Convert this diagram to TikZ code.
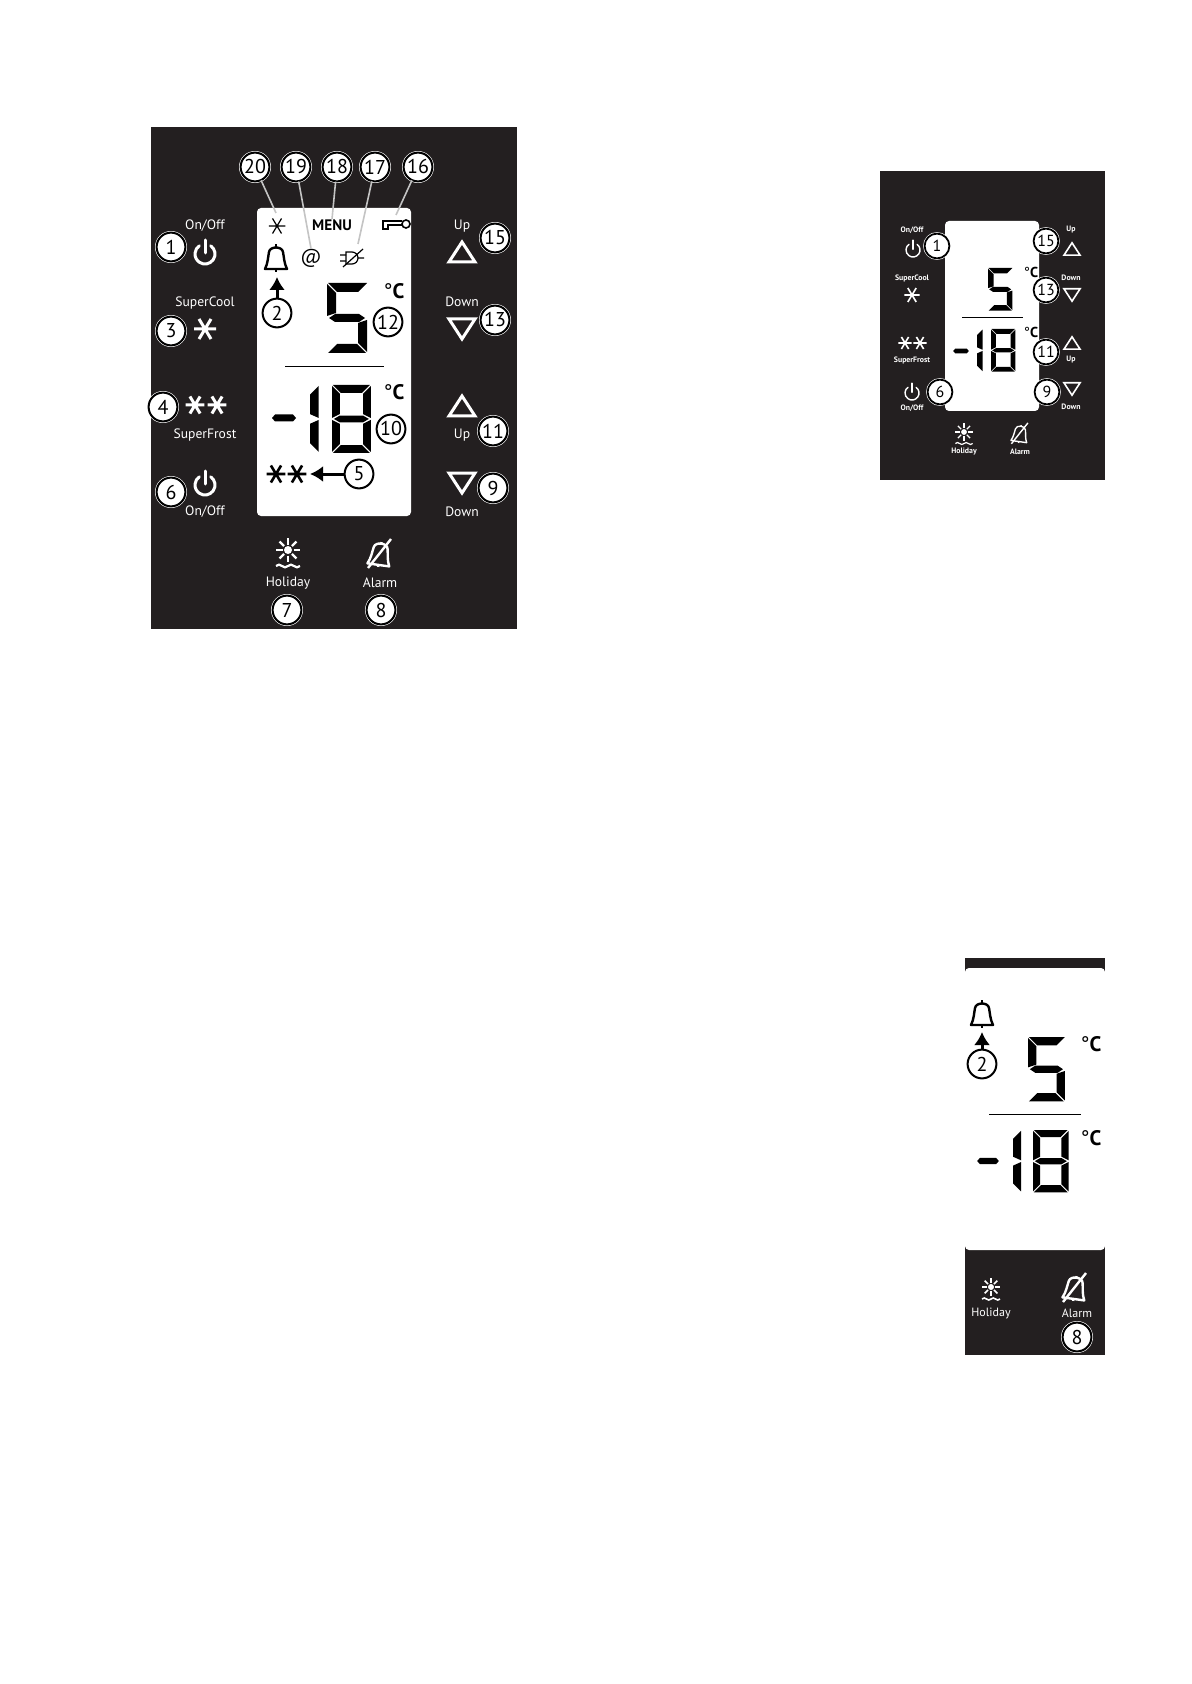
\documentclass[tikz,border=0pt]{standalone}
\usepackage{fontspec}
\setmainfont{PT Sans}
\usepackage{tikz}
\usetikzlibrary{arrows.meta}
\usepackage{xcolor}
\definecolor{PanelDark}{HTML}{231F20}
\definecolor{LeaderGrey}{HTML}{C4C4C4}
\tikzset{
  numcirc/.style={circle,draw=white,double=black,double distance=1pt,line width=.3pt,fill=white,text=black,inner sep=0pt,minimum size=14.4pt,font=\fontsize{10}{10}\selectfont},
  numsmall/.style={numcirc,double distance=.9pt,minimum size=12.4pt,font=\fontsize{8}{8}\selectfont},
  lbl/.style={text=white,inner sep=0pt,font=\fontsize{6.8}{7}\selectfont},
  lblsmall/.style={text=white,inner sep=0pt,font=\bfseries\fontsize{3.9}{4}\selectfont},
  lblmid/.style={text=white,inner sep=0pt,font=\fontsize{6}{7}\selectfont},
  degc/.style={text=black,inner sep=0pt,font=\fontsize{10.5}{11}\selectfont},
  degsmall/.style={degc,font=\fontsize{7.2}{8}\selectfont},
  pics/powericon/.style={code={
    \draw[line cap=round] (-55:10) arc[start angle=-55,end angle=235,radius=10];
    \draw[line cap=round] (0,-14)--(0,-1);}},
  pics/flake/.style={code={
    \draw (-11,0)--(11,0) (-6,-10)--(6,10) (6,-10)--(-6,10);}},
  pics/triup/.style={code={\draw (0,-10)--(13,10)--(-13,10)--cycle;}},
  pics/tridown/.style={code={\draw (0,10)--(13,-10)--(-13,-10)--cycle;}},
  pics/bellicon/.style={code={
    \draw[line join=round] (-11,12) .. controls (-8,6) and (-8,0) .. (-7,-5) .. controls (-6,-11) and (6,-11) .. (7,-5) .. controls (8,0) and (8,6) .. (11,12) -- cycle;
    \draw (0,-9)--(0,-13) (0,12)--(0,15);}},
  pics/belloff/.style={code={
    \begin{scope}[rotate=-8]
    \draw[line join=round] (-11,12) .. controls (-8,6) and (-8,0) .. (-7,-5) .. controls (-6,-11) and (6,-11) .. (7,-5) .. controls (8,0) and (8,6) .. (11,12) -- cycle;
    \draw (0,-9)--(0,-11) (0,12)--(0,14);
    \end{scope}
    \draw (-12,15)--(11,-14);}},
  pics/holidayicon/.style={code={
    \fill circle (4);
    \foreach \a in {0,45,...,315}{\draw (\a:5.5)--(\a:12);}
    \draw (-12,16) to[bend left=50] (-6,16) to[bend right=50] (0,16) to[bend left=50] (6,16) to[bend right=50] (12,16);}},
  pics/plugoff/.style={code={
    \draw (-6,-6)--(-6,6)--(0,6) arc[start angle=90,end angle=-90,radius=6]--cycle;
    \draw (-12,-3)--(-6,-3) (-12,3)--(-6,3) (6,0)--(12,0) (-9,9)--(11,-9);}},
  pics/keyicon/.style={code={
    \draw (10,0) circle (4);
    \draw (6,-3)--(-13,-3)--(-13,5)--(-8,5)--(-8,1)--(6,1);}},
  pics/digitfive/.style={code={
    \fill (1,0)--(40,0)--(31,9)--(10,9)--cycle
      (0,1)--(9,10)--(9,30)--(0,33)--cycle
      (2,35)--(8,31)--(32,31)--(38,35)--(32,39)--(8,39)--cycle
      (40,37)--(40,69)--(31,60)--(31,40)--cycle
      (1,70)--(39,70)--(30,61)--(10,61)--cycle;}},
  pics/digiteight/.style={code={
    \fill (1,0)--(39,0)--(31,8)--(9,8)--cycle
      (0,1)--(8,9)--(8,30)--(0,34)--cycle
      (40,1)--(32,9)--(32,30)--(40,34)--cycle
      (2,35)--(8,31.5)--(32,31.5)--(38,35)--(32,38.5)--(8,38.5)--cycle
      (0,36)--(8,40)--(8,61)--(0,69)--cycle
      (40,36)--(32,40)--(32,61)--(40,69)--cycle
      (1,70)--(39,70)--(31,62)--(9,62)--cycle;}},
  pics/digitone/.style={code={
    \fill (9,1)--(0,10)--(0,30)--(9,34)--cycle
      (9,36)--(0,40)--(0,60)--(9,69)--cycle;}},
  pics/minussign/.style={code={\fill (-12,0)--(-9,-3.5)--(9,-3.5)--(12,0)--(9,3.5)--(-9,3.5)--cycle;}}
}
\begin{document}
\begin{tikzpicture}[x=.5pt,y=-.5pt]
  \useasboundingbox (0,0) rectangle (1191,1684);
  % large panel
  \fill[PanelDark] (151,127) rectangle (517,629);
  \fill[white,rounded corners=2pt] (257,208) rectangle (411,516);
  \draw[black,line width=.5pt] (285,367)--(384,367);
  \foreach \n/\x/\y in {20/255/167,19/296/167,18/337/167,17/375/167,16/418/167,1/171/247,15/495/238,3/171/331,2/277/313,12/388/322,13/495/320,4/163/407,10/391/429,11/493/431,5/359/474,6/171/492,9/493/488,7/287/610,8/381/610}{\node[numcirc] (a\n) at (\x,\y) {\n};}
  \node[lbl] (onoffa) at (205,226) {On/Off};
  \node[lbl] (upa) at (462,226) {Up};
  \node[lbl] (supercoola) at (205,303) {SuperCool};
  \node[lbl] (downa) at (462,302) {Down};
  \node[lbl] (superfrosta) at (205,435) {SuperFrost};
  \node[lbl] (onoffb) at (205,512) {On/Off};
  \node[lbl] (upb) at (462,435) {Up};
  \node[lbl] (downb) at (462,512) {Down};
  \node[lbl] (holidaya) at (288,583) {Holiday};
  \node[lbl] (alarma) at (380,583) {Alarm};
  \node[inner sep=0pt,font=\bfseries\fontsize{7.6}{8}\selectfont] (menu) at (332,225) {MENU};
  \node[inner sep=0pt,font=\fontsize{10}{11}\selectfont] (atsign) at (311,258) {@};
  \node[degc] (dega) at (394,291) {°\textbf{C}};
  \node[degc] (degb) at (394,392) {°\textbf{C}};
  \pic[white,line width=1.5pt] at (205,254) {powericon};
  \pic[white,line width=1.5pt] at (205,485) {powericon};
  \pic[white,line width=1.5pt] at (205,329) {flake};
  \pic[white,line width=1.5pt,scale=.85] at (195,405) {flake};
  \pic[white,line width=1.5pt,scale=.85] at (217,405) {flake};
  \pic[white,line width=1.5pt] at (462,252) {triup};
  \pic[white,line width=1.5pt] at (462,329) {tridown};
  \pic[white,line width=1.5pt] at (462,406) {triup};
  \pic[white,line width=1.5pt] at (462,483) {tridown};
  \pic[white,line width=1.1pt] at (288,550) {holidayicon};
  \pic[white,line width=1.2pt] at (380,553) {belloff};
  \pic[black,line width=.6pt,scale=.75] at (277,226) {flake};
  \pic[black,line width=1.2pt] at (276,257) {bellicon};
  \pic[black,line width=.6pt] at (352,258) {plugoff};
  \pic[black,line width=.8pt] at (396,224) {keyicon};
  \pic[black,line width=1.3pt,scale=.85] at (276,474) {flake};
  \pic[black,line width=1.3pt,scale=.85] at (297,474) {flake};
  \pic[black] at (327,283) {digitfive};
  \pic[black] at (284,418) {minussign};
  \pic[black,scale=.97] at (310,385) {digitone};
  \pic[black,scale=.97] at (332,385) {digiteight};
  \coordinate (flakeend) at (276,213);
  \coordinate (plugend) at (358,244);
  \coordinate (keyend) at (396,215);
  \coordinate (bellbase) at (277,277);
  \coordinate (starend) at (310,474);
  \foreach \x/\y in {a20/flakeend,a19/atsign.north,a18/menu.north,a17/plugend,a16/keyend}{\draw[LeaderGrey,line width=.8pt] (\x)--(\y);}
  \draw[-{Latex[length=6.5pt,width=8pt]},line width=1.5pt] (a2)--(bellbase);
  \draw[-{Latex[length=6.5pt,width=8pt]},line width=1.5pt] (a5)--(starend);
  % small panel
  \fill[PanelDark] (880,171) rectangle (1105,480);
  \fill[white,rounded corners=2pt] (945,221) rectangle (1039,411);
  \draw[black,line width=.5pt] (962,318)--(1023,318);
  \foreach \n/\x/\y in {1/937/246,15/1046/241,13/1046/290,11/1046/352,6/940/392,9/1047/392}{\node[numsmall] (b\n) at (\x,\y) {\n};}
  \node[lblsmall] (onoffc) at (912,230) {On/Off};
  \node[lblsmall] (supercoolb) at (912,278) {SuperCool};
  \node[lblsmall] (superfrostb) at (912,360) {SuperFrost};
  \node[lblsmall] (onoffd) at (912,408) {On/Off};
  \node[lblsmall] (upc) at (1071,230) {Up};
  \node[lblsmall] (downc) at (1071,278) {Down};
  \node[lblsmall] (upd) at (1071,360) {Up};
  \node[lblsmall] (downd) at (1071,407) {Down};
  \node[lblsmall] (holidayb) at (964,452) {Holiday};
  \node[lblsmall] (alarmb) at (1020,452) {Alarm};
  \node[degsmall] (degc) at (1031,272) {°\textbf{C}};
  \node[degsmall] (degd) at (1031,332) {°\textbf{C}};
  \pic[white,line width=.7pt,scale=.7] at (913,250) {powericon};
  \pic[white,line width=.7pt,scale=.7] at (912,393) {powericon};
  \pic[white,line width=.8pt,scale=.7] at (912,295) {flake};
  \pic[white,line width=.8pt,scale=.6] at (905,343) {flake};
  \pic[white,line width=.8pt,scale=.6] at (920,343) {flake};
  \pic[white,line width=.8pt,scale=.62] at (1072,249) {triup};
  \pic[white,line width=.8pt,scale=.62] at (1072,295) {tridown};
  \pic[white,line width=.8pt,scale=.62] at (1072,343) {triup};
  \pic[white,line width=.8pt,scale=.62] at (1072,389) {tridown};
  \pic[white,line width=.6pt,scale=.72] at (964,432) {holidayicon};
  \pic[white,line width=.7pt,scale=.72] at (1020,433) {belloff};
  \pic[black,scale=.61] at (988,268) {digitfive};
  \pic[black,scale=.65] at (961,351) {minussign};
  \pic[black,scale=.61] at (977,329) {digitone};
  \pic[black,scale=.61] at (991,329) {digiteight};
  % cut panel
  \fill[PanelDark] (965,958) rectangle (1105,1355);
  \fill[white,rounded corners=2pt] (965,968) rectangle (1105,1250);
  \draw[black,line width=.5pt] (989,1114)--(1081,1114);
  \node[numcirc] (c2) at (982,1064) {2};
  \node[numcirc] (c8) at (1077,1337) {8};
  \node[lblmid] (holidayc) at (991,1313) {Holiday};
  \node[lblmid] (alarmc) at (1077,1313) {Alarm};
  \node[degc] (dege) at (1091,1044) {°\textbf{C}};
  \node[degc] (degf) at (1091,1138) {°\textbf{C}};
  \pic[black,line width=1.2pt] at (982,1013) {bellicon};
  \pic[white,line width=.8pt,scale=.75] at (991,1287) {holidayicon};
  \pic[white,line width=1.2pt] at (1075,1287) {belloff};
  \pic[black,scale=.92] at (1028,1037) {digitfive};
  \pic[black,scale=.9] at (988,1161) {minussign};
  \pic[black,scale=.89] at (1013,1130) {digitone};
  \pic[black,scale=.89] at (1033,1130) {digiteight};
  \coordinate (bellbasec) at (982,1032);
  \draw[-{Latex[length=6.5pt,width=8pt]},line width=1.5pt] (c2)--(bellbasec);
\end{tikzpicture}
\end{document}
